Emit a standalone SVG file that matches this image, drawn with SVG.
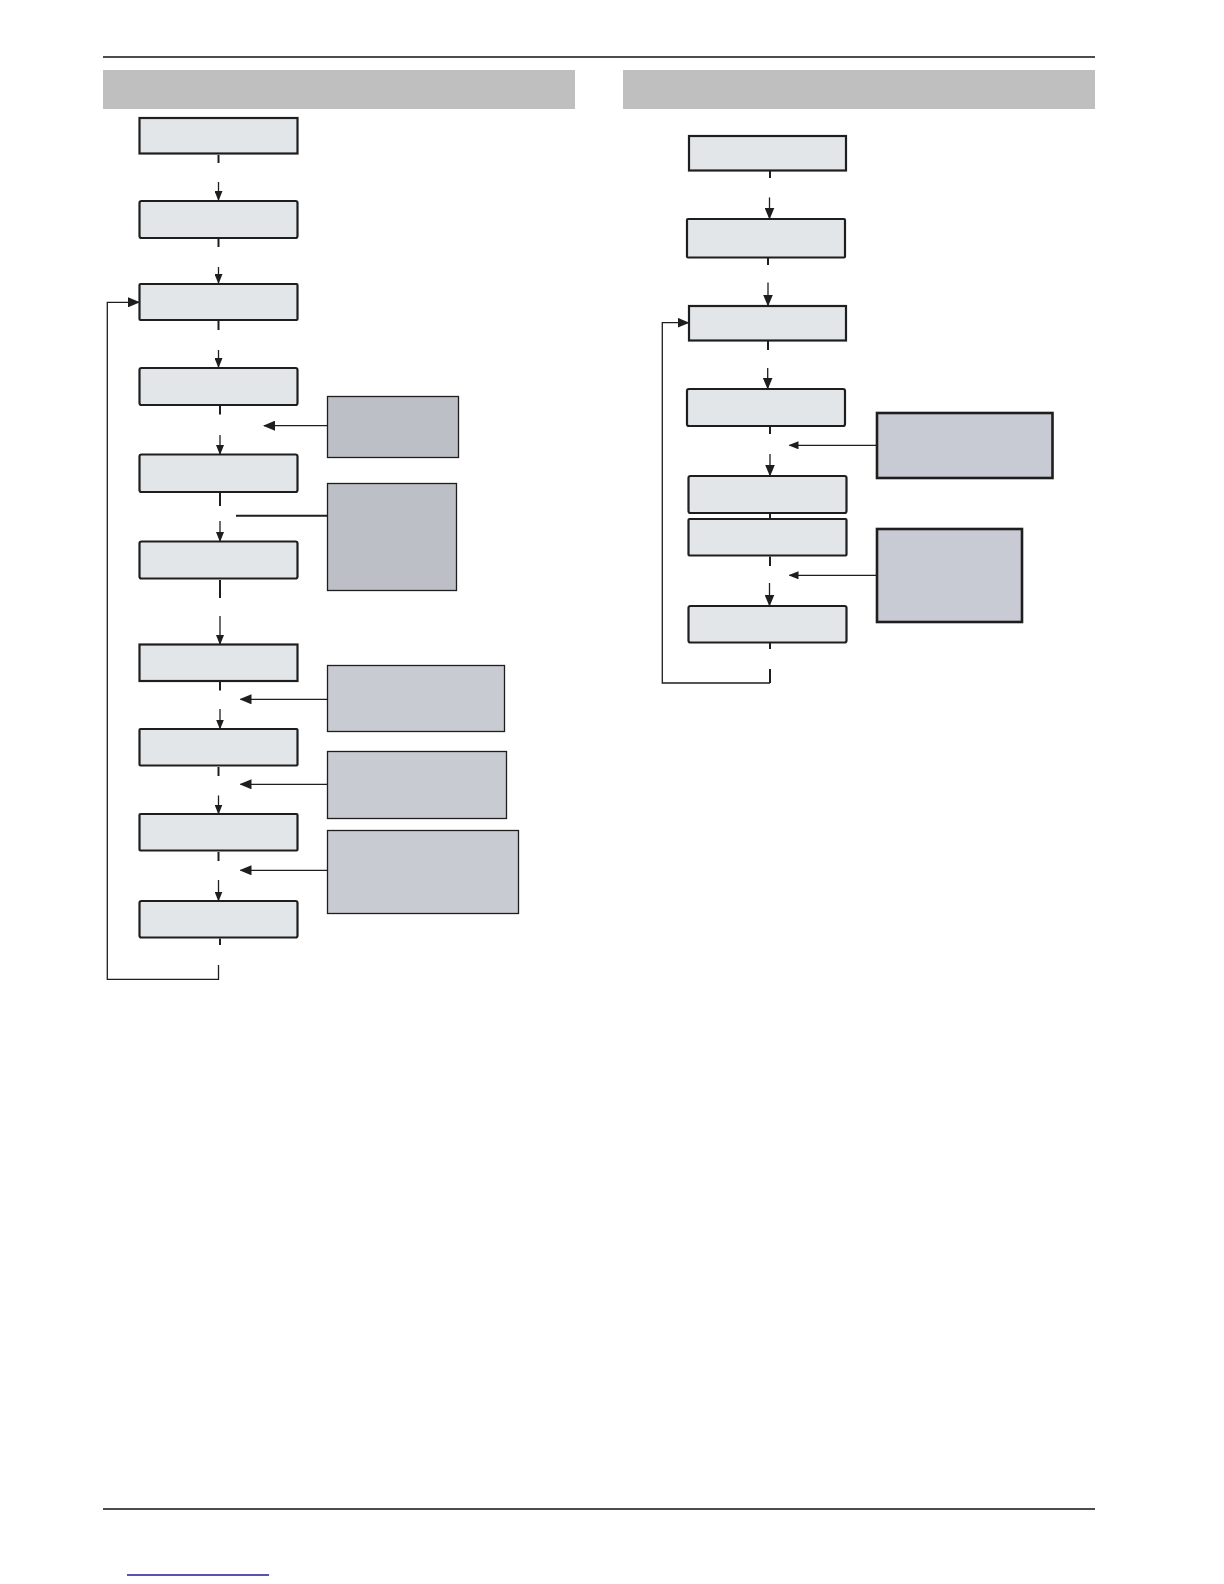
<svg xmlns="http://www.w3.org/2000/svg" width="1224" height="1584" viewBox="0 0 1224 1584">
<defs>
<style>
.node{fill:#e3e6e9;stroke:#1e1e1e;stroke-width:2.2}
.side{fill:#c8cbd2;stroke:#1e1e1e;stroke-width:1.3}
.sideD{fill:#bcbfc6;stroke:#1e1e1e;stroke-width:1.3}
.sideT{fill:#c8cbd3;stroke:#1e1e1e;stroke-width:2.6}
.hdr{fill:#bfbfbf}
.ln{stroke:#1e1e1e;stroke-width:1.3;fill:none}
.stub{stroke:#1e1e1e;stroke-width:2;fill:none}
.rule{stroke:#111;stroke-width:1.4}
</style>
<marker id="ah" markerWidth="10" markerHeight="8" refX="9" refY="4" orient="auto" markerUnits="userSpaceOnUse">
<path d="M0,0 L10,4 L0,8 Z" fill="#1e1e1e"/>
</marker>
<marker id="ahL" markerWidth="12" markerHeight="10" refX="11" refY="5" orient="auto" markerUnits="userSpaceOnUse">
<path d="M0,0 L12,5 L0,10 Z" fill="#1e1e1e"/>
</marker>
</defs>
<rect width="1224" height="1584" fill="#fff"/>
<line class="rule" x1="103" y1="57" x2="1095" y2="57"/>
<line class="rule" x1="103" y1="1509" x2="1095" y2="1509"/>
<line x1="127" y1="1575" x2="269" y2="1575" stroke="#1c1c96" stroke-width="1.4"/>
<rect class="hdr" x="103" y="70" width="472" height="39"/>
<rect class="hdr" x="623" y="70" width="472" height="39"/>

<g id="L1"><rect class="node" x="139.5" y="118" width="158" height="35.5"/></g>
<g id="L2"><rect class="node" x="139.5" y="201" width="158" height="37" rx="2"/></g>
<g id="L3"><rect class="node" x="139.5" y="284" width="158" height="36" rx="1"/></g>
<g id="L4"><rect class="node" x="139.5" y="368" width="158" height="37" rx="2"/></g>
<g id="L5"><rect class="node" x="139.5" y="454.5" width="158" height="37.5" rx="2"/></g>
<g id="L6"><rect class="node" x="139.5" y="541.5" width="158" height="37" rx="2"/></g>
<g id="L7"><rect class="node" x="139.5" y="644.5" width="158" height="36.5"/></g>
<g id="L8"><rect class="node" x="139.5" y="729" width="158" height="36.5" rx="1"/></g>
<g id="L9"><rect class="node" x="139.5" y="814" width="158" height="36.5" rx="1"/></g>
<g id="L10"><rect class="node" x="139.5" y="901" width="158" height="36.5" rx="2"/></g>

<g id="SA"><rect class="sideD" x="327.5" y="396.5" width="131" height="61"/></g>
<g id="SB"><rect class="sideD" x="327.5" y="483.5" width="129" height="107"/></g>
<g id="SC"><rect class="side" x="327.5" y="665.5" width="177" height="66"/></g>
<g id="SD"><rect class="side" x="327.5" y="751.5" width="179" height="67"/></g>
<g id="SE"><rect class="side" x="327.5" y="830.5" width="191" height="83"/></g>

<g id="R1"><rect class="node" x="689" y="136" width="157" height="34.5"/></g>
<g id="R2"><rect class="node" x="687" y="219" width="158" height="38.5" rx="1"/></g>
<g id="R3"><rect class="node" x="689" y="306" width="157" height="34.5"/></g>
<g id="R4"><rect class="node" x="687" y="389" width="158" height="37" rx="2"/></g>
<g id="R5"><rect class="node" x="688.5" y="476" width="158" height="37" rx="2"/></g>
<g id="R6"><rect class="node" x="688.5" y="519" width="158" height="36.5" rx="1"/></g>
<g id="R7"><rect class="node" x="688.5" y="606" width="158" height="36.5" rx="2"/></g>

<g id="SF"><rect class="sideT" x="877" y="413" width="175.5" height="65"/></g>
<g id="SG"><rect class="sideT" x="877" y="529" width="145" height="93"/></g>

<g id="connectors">
<!-- left column stubs -->
<line class="stub" x1="218.5" y1="155" x2="218.5" y2="163"/>
<line class="stub" x1="218.5" y1="239" x2="218.5" y2="247"/>
<line class="stub" x1="218.5" y1="321" x2="218.5" y2="330"/>
<line class="stub" x1="220" y1="406" x2="220" y2="414.5"/>
<line class="stub" x1="220" y1="493" x2="220" y2="506"/>
<line class="stub" x1="220" y1="580" x2="220" y2="598"/>
<line class="stub" x1="220" y1="682" x2="220" y2="690.5"/>
<line class="stub" x1="218.5" y1="767" x2="218.5" y2="776"/>
<line class="stub" x1="218.5" y1="852" x2="218.5" y2="861"/>
<line class="stub" x1="220" y1="938.5" x2="220" y2="945"/>
<!-- left column arrows -->
<line class="ln" x1="218.5" y1="182" x2="218.5" y2="200" marker-end="url(#ah)"/>
<line class="ln" x1="218.5" y1="267" x2="218.5" y2="283" marker-end="url(#ah)"/>
<line class="ln" x1="218.5" y1="350" x2="218.5" y2="367" marker-end="url(#ah)"/>
<line class="ln" x1="220" y1="435" x2="220" y2="454" marker-end="url(#ah)"/>
<line class="ln" x1="220" y1="521" x2="220" y2="541" marker-end="url(#ah)"/>
<line class="ln" x1="220" y1="616" x2="220" y2="644" marker-end="url(#ah)"/>
<line class="ln" x1="220" y1="709" x2="220" y2="728.5" marker-end="url(#ah)"/>
<line class="ln" x1="218.5" y1="795.5" x2="218.5" y2="813.5" marker-end="url(#ah)"/>
<line class="ln" x1="218.5" y1="880" x2="218.5" y2="900.5" marker-end="url(#ah)"/>
<!-- side to flow -->
<line class="ln" x1="327.5" y1="425.7" x2="264" y2="425.7" marker-end="url(#ahL)"/>
<line class="stub" x1="327.5" y1="515.7" x2="236" y2="515.7" stroke-width="1.6"/>
<line class="ln" x1="327.5" y1="699.3" x2="240.5" y2="699.3" marker-end="url(#ahL)"/>
<line class="ln" x1="327.5" y1="784.3" x2="240.5" y2="784.3" marker-end="url(#ahL)"/>
<line class="ln" x1="327.5" y1="870.3" x2="240.5" y2="870.3" marker-end="url(#ahL)"/>
<!-- left loop -->
<polyline class="ln" points="218.5,965 218.5,979.3 107.3,979.3 107.3,302.3 139,302.3" marker-end="url(#ahL)"/>

<!-- right column stubs -->
<line class="stub" x1="770" y1="171" x2="770" y2="178"/>
<line class="stub" x1="768" y1="258" x2="768" y2="265"/>
<line class="stub" x1="768" y1="341" x2="768" y2="350"/>
<line class="stub" x1="770" y1="427" x2="770" y2="434"/>
<line class="stub" x1="770" y1="513" x2="770" y2="519"/>
<line class="stub" x1="770" y1="556.5" x2="770" y2="566"/>
<line class="stub" x1="770" y1="643" x2="770" y2="649"/>
<!-- right column arrows -->
<line class="ln" x1="769.5" y1="197.5" x2="769.5" y2="218.5" marker-end="url(#ahL)"/>
<line class="ln" x1="768" y1="282.5" x2="768" y2="305.5" marker-end="url(#ahL)"/>
<line class="ln" x1="767.7" y1="368" x2="767.7" y2="388.5" marker-end="url(#ahL)"/>
<line class="ln" x1="770" y1="454" x2="770" y2="475.5" marker-end="url(#ahL)"/>
<line class="ln" x1="769.5" y1="583" x2="769.5" y2="605.5" marker-end="url(#ahL)"/>
<!-- side to flow right -->
<line class="ln" x1="877" y1="445.3" x2="789.5" y2="445.3" marker-end="url(#ah)"/>
<line class="ln" x1="877" y1="575.3" x2="789.5" y2="575.3" marker-end="url(#ah)"/>
<!-- right loop -->
<line class="stub" x1="770" y1="669" x2="770" y2="683"/>
<polyline class="ln" points="770,683 662.3,683 662.3,322.7 688.5,322.7" marker-end="url(#ahL)"/>
</g>
</svg>
